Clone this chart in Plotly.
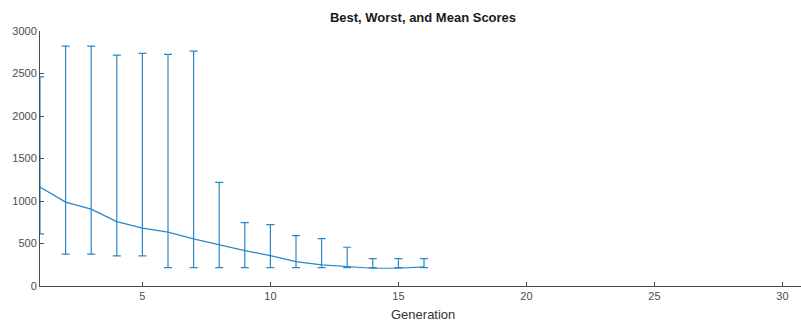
import plotly.graph_objects as go

generation = list(range(1, 17))
mean_score = [1164, 987, 904, 758, 680, 633, 554, 483, 416, 357, 287, 248, 228, 209, 209, 225]
worst_score = [2461, 2822, 2822, 2716, 2736, 2724, 2763, 1218, 746, 723, 593, 558, 456, 322, 322, 322]
best_score = [613, 374, 374, 354, 354, 216, 216, 216, 216, 216, 216, 216, 216, 216, 216, 216]

y_ticks = [0, 500, 1000, 1500, 2000, 2500, 3000]
x_ticks = [5, 10, 15, 20, 25, 30]

color = "#2b86c6"

fig = go.Figure()
fig.add_trace(go.Scatter(
    x=generation,
    y=mean_score,
    mode="lines",
    line=dict(color=color, width=1.2),
    error_y=dict(
        type="data",
        symmetric=False,
        array=[w - m for w, m in zip(worst_score, mean_score)],
        arrayminus=[m - b for m, b in zip(mean_score, best_score)],
        color=color,
        thickness=1.2,
        width=4,
    ),
    cliponaxis=False,
    showlegend=False,
))

axis_font = dict(family="Liberation Sans, Arial, sans-serif", size=11, color="#4d4d4d")

fig.update_layout(
    width=801,
    height=322,
    margin=dict(l=40, r=0, t=31, b=36, autoexpand=False),
    paper_bgcolor="white",
    plot_bgcolor="white",
    title=dict(
        text="<b>Best, Worst, and Mean Scores</b>",
        x=423 / 801,
        xanchor="center",
        xref="container",
        y=1 - 17 / 322,
        yanchor="middle",
        yref="container",
        font=dict(family="Liberation Sans, Arial, sans-serif", size=13, color="#1a1a1a"),
    ),
    xaxis=dict(
        range=[1, 1 + 761 / 25.6],
        tickvals=x_ticks,
        ticks="inside",
        ticklen=4,
        tickcolor="#4d4d4d",
        showline=True,
        linecolor="#4d4d4d",
        linewidth=1,
        showgrid=False,
        zeroline=False,
        tickfont=axis_font,
        automargin=False,
    ),
    yaxis=dict(
        range=[0, 3000],
        tickvals=y_ticks,
        ticks="inside",
        ticklen=4,
        tickcolor="#4d4d4d",
        showline=True,
        linecolor="#4d4d4d",
        linewidth=1,
        showgrid=False,
        zeroline=False,
        tickfont=axis_font,
        automargin=False,
    ),
    annotations=[dict(
        text="Generation",
        xref="paper", yref="paper",
        x=(423 - 40) / 761, y=-28 / 255,
        xanchor="center", yanchor="middle",
        showarrow=False,
        font=dict(family="Liberation Sans, Arial, sans-serif", size=13, color="#333333"),
    )],
)

fig.write_html(
    "out.html",
    config={"displayModeBar": False},
    post_script="document.body.style.margin='0';document.body.style.overflow='hidden';",
)
